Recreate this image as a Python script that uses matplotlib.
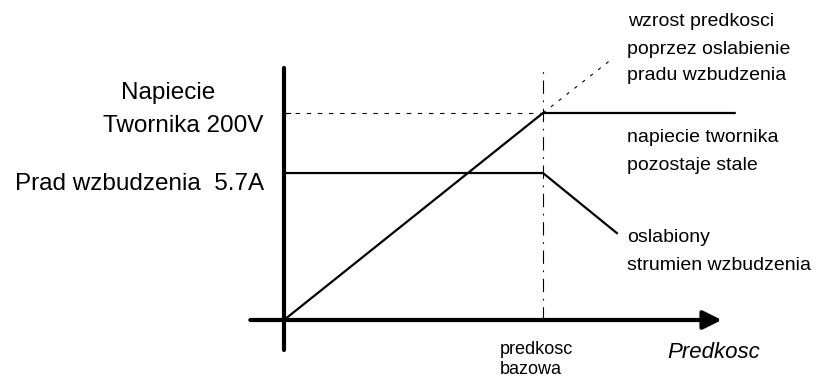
import numpy as np
from matplotlib import pyplot as plt

plt.rcParams['font.family'] = ['Liberation Sans', 'DejaVu Sans']

# speed normalised to base speed = 1, vertical axis in volts-like units
speed_v = [0, 1, 1.74]
voltage = [0, 200, 200]
speed_f = [0, 1, 1.285]
field = [142, 142, 84]
speed_ext = [1, 1.255]
voltage_ext = [200, 250]
base_speed = 1
base_top = 243
v_nominal = 200

W, H = 828, 379
fig = plt.figure(figsize=(W / 100, H / 100), dpi=100)
ax = fig.add_axes([0, 0, 1, 1])
ax.set_xlim(-284 / 259, (W - 284) / 259)
ax.set_ylim((320 - H) / 207 * 200, 320 / 207 * 200)
ax.axis('off')

def px(x, y):
    return x / W, 1 - y / H

# axes of the diagram
ax.plot([0, 0], [-29, 243.5], color='black', lw=3, solid_capstyle='round')
ax.annotate('', xy=(1.69, 0), xytext=(-0.13, 0),
            arrowprops=dict(arrowstyle='-|>', lw=3, color='black',
                            mutation_scale=28, shrinkA=0, shrinkB=0))
ax.plot([0, 0.025], [v_nominal, v_nominal], color='black', lw=0.8)

# curves
ax.plot(speed_v, voltage, color='black', lw=1.6)
ax.plot(speed_f, field, color='black', lw=1.6)
ax.plot(speed_ext, voltage_ext, color='black', lw=0.8, linestyle=(0, (3, 6)))
ax.plot([0, base_speed], [v_nominal, v_nominal], color='black', lw=0.8,
        linestyle=(0, (4, 6)))
ax.plot([base_speed, base_speed], [0, base_top], color='black', lw=0.8,
        linestyle=(0, (12, 6, 1.5, 6)))

fs_big = 17.5
fs_small = 14
fig.text(*px(168, 93), 'Napiecie', fontsize=fs_big, ha='center', va='center')
fig.text(*px(263, 126), 'Twornika 200V', fontsize=fs_big, ha='right', va='center')
fig.text(*px(15, 184), 'Prad wzbudzenia  5.7A', fontsize=fs_big, ha='left', va='center')

for x, y, s in [(628, 22, 'wzrost predkosci'), (627, 50, 'poprzez oslabienie'),
                (627, 75, 'pradu wzbudzenia'), (627, 137, 'napiecie twornika'),
                (627, 165, 'pozostaje stale'), (627, 237, 'oslabiony'),
                (627, 266, 'strumien wzbudzenia')]:
    fig.text(*px(x, y), s, fontsize=fs_small, ha='left', va='center')

fig.text(*px(500, 350), 'predkosc', fontsize=13, ha='left', va='center')
fig.text(*px(500, 369), 'bazowa', fontsize=13, ha='left', va='center')
fig.text(*px(667, 353), 'Predkosc', fontsize=16, style='italic', ha='left', va='center')

fig.savefig('out.png', dpi=100)
